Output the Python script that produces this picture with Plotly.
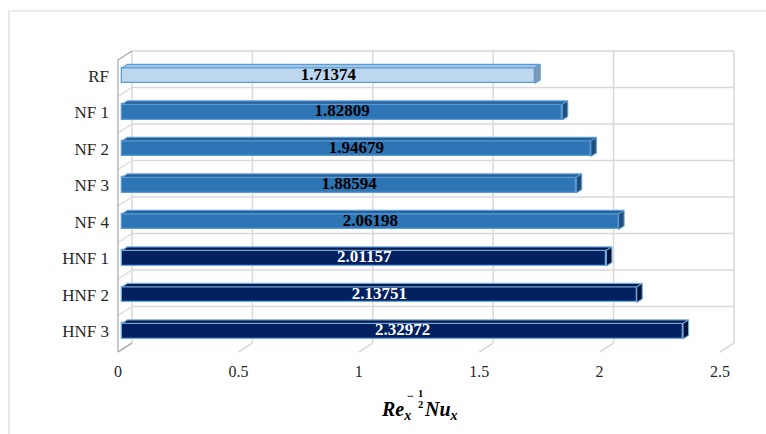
import plotly.graph_objects as go

# ---- data -------------------------------------------------------------
categories = ["RF", "NF 1", "NF 2", "NF 3", "NF 4", "HNF 1", "HNF 2", "HNF 3"]
values = [1.71374, 1.82809, 1.94679, 1.88594, 2.06198, 2.01157, 2.13751, 2.32972]
groups = ["RF", "NF", "NF", "NF", "NF", "HNF", "HNF", "HNF"]
x_ticks = [0, 0.5, 1, 1.5, 2, 2.5]
x_tick_labels = ["0", "0.5", "1", "1.5", "2", "2.5"]

# ---- styling ----------------------------------------------------------
W, H = 766, 434
FRONT_X0, FRONT_X1 = 118, 720          # pixel of value 0 and 2.5 on the front plane
FRONT_Y0, FRONT_Y1 = 60, 352           # top / bottom pixel of the front plane
PPU_X = (FRONT_X1 - FRONT_X0) / x_ticks[-1]
BAND = (FRONT_Y1 - FRONT_Y0) / len(categories)
DEPTH_DX, DEPTH_DY = 14 / PPU_X, -9 / BAND   # wall depth in data units
BAR_F0, BAR_F1 = 0.29, 0.68                  # bar front/back position within depth
BAR_T = 15.5 / BAND                          # bar thickness

face = {"RF": "#BDD7EE", "NF": "#2E75B6", "HNF": "#002060"}
top = {"RF": "#9DC3E6", "NF": "#25619A", "HNF": "#00184A"}
side = {"RF": "#8497B0", "NF": "#1F4E79", "HNF": "#001238"}
edge = {"RF": "#5B9BD5", "NF": "#5B9BD5", "HNF": "#6FA8DC"}
txt = {"RF": "black", "NF": "black", "HNF": "white"}

GRID = "#D9D9D9"
WALL = "#A6A6A6"
SERIF = "Liberation Serif, Times New Roman, serif"

n = len(categories)
x_max = x_ticks[-1]

fig = go.Figure()

# ---- walls and gridlines (behind the bars) ----------------------------
shapes = []


def seg(x0, y0, x1, y1, color=GRID, width=1.5):
    shapes.append(dict(type="line", xref="x", yref="y", x0=x0, y0=y0, x1=x1, y1=y1,
                       line=dict(color=color, width=width), layer="below"))


for t in x_ticks:
    # back wall vertical gridline
    seg(t + DEPTH_DX, DEPTH_DY, t + DEPTH_DX, n + DEPTH_DY)
    # floor depth line
    seg(t, n, t + DEPTH_DX, n + DEPTH_DY)
for k in range(n):
    # back wall horizontal lines at category boundaries
    seg(DEPTH_DX, k + DEPTH_DY, x_max + DEPTH_DX, k + DEPTH_DY)
for k in range(n + 1):
    # side wall depth lines
    seg(0, k, DEPTH_DX, k + DEPTH_DY,
        color=WALL if k in (0, n) else GRID, width=1.2)
# side wall front edge
seg(0, 0, 0, n, color=WALL, width=1.2)

# ---- bars: front faces -------------------------------------------------
centers = [i + 0.5 + BAR_F0 * DEPTH_DY for i in range(n)]
fig.add_trace(go.Bar(
    orientation="h",
    x=values,
    y=centers,
    base=BAR_F0 * DEPTH_DX,
    width=BAR_T,
    marker=dict(color=[face[g] for g in groups],
                line=dict(color=[edge[g] for g in groups], width=1.3)),
    hoverinfo="skip",
    showlegend=False,
))

# ---- bars: top and end faces ------------------------------------------
for i, (v, g) in enumerate(zip(values, groups)):
    yc = i + 0.5
    ytf = yc - BAR_T / 2 + BAR_F0 * DEPTH_DY
    ybf = yc + BAR_T / 2 + BAR_F0 * DEPTH_DY
    ytb = yc - BAR_T / 2 + BAR_F1 * DEPTH_DY
    ybb = yc + BAR_T / 2 + BAR_F1 * DEPTH_DY
    x0f = BAR_F0 * DEPTH_DX
    x0b = BAR_F1 * DEPTH_DX
    xvf = v + x0f
    xvb = v + x0b
    fig.add_trace(go.Scatter(
        x=[x0f, xvf, xvb, x0b, x0f], y=[ytf, ytf, ytb, ytb, ytf],
        mode="lines", fill="toself", fillcolor=top[g],
        line=dict(color=edge[g], width=1.1), hoverinfo="skip", showlegend=False))
    fig.add_trace(go.Scatter(
        x=[xvf, xvb, xvb, xvf, xvf], y=[ytf, ytb, ybb, ybf, ytf],
        mode="lines", fill="toself", fillcolor=side[g],
        line=dict(color=edge[g], width=1.1), hoverinfo="skip", showlegend=False))

# ---- value labels ------------------------------------------------------
fig.add_trace(go.Scatter(
    x=[v / 2 + BAR_F0 * DEPTH_DX for v in values],
    y=centers,
    mode="text",
    text=[f"<b>{v:.5f}</b>" for v in values],
    textfont=dict(family=SERIF, size=17, color=[txt[g] for g in groups]),
    hoverinfo="skip", showlegend=False, cliponaxis=False,
))

# ---- outer chart border ------------------------------------------------
shapes.append(dict(type="rect", xref="paper", yref="paper",
                   x0=9 / W, y0=-0.05, x1=1.05, y1=1 - 11 / H,
                   line=dict(color="#D9D9D9", width=1.2), layer="below"))

# ---- axis title: Re_x^(-1/2) Nu_x ---------------------------------------
def px(xp, yp):
    return xp / W, 1 - yp / H


ann = []
ax, ay = px(380, 410)
ann.append(dict(text="<b><i>Re<sub>x</sub></i></b>", x=ax, y=ay, xanchor="left", yanchor="middle",
                font=dict(family=SERIF, size=20, color="black")))
ax, ay = px(411, 396)
ann.append(dict(text="<b>−</b>", x=ax, y=ay, xanchor="center", yanchor="middle",
                font=dict(family=SERIF, size=12, color="black")))
ax, ay = px(420.5, 393.5)
ann.append(dict(text="<b>1</b>", x=ax, y=ay, xanchor="center", yanchor="middle",
                font=dict(family=SERIF, size=10.5, color="black")))
ax, ay = px(420.5, 404.5)
ann.append(dict(text="<b>2</b>", x=ax, y=ay, xanchor="center", yanchor="middle",
                font=dict(family=SERIF, size=10.5, color="black")))
ax, ay = px(423, 410)
ann.append(dict(text="<b><i>Nu<sub>x</sub></i></b>", x=ax, y=ay, xanchor="left", yanchor="middle",
                font=dict(family=SERIF, size=20, color="black")))
for a in ann:
    a.update(xref="paper", yref="paper", showarrow=False, borderpad=0)

fig.update_layout(
    width=W, height=H,
    margin=dict(l=0, r=0, t=0, b=0, pad=0),
    paper_bgcolor="white", plot_bgcolor="white",
    shapes=shapes, annotations=ann,
    bargap=0,
    xaxis=dict(
        range=[(0 - FRONT_X0) / PPU_X, (W - FRONT_X0) / PPU_X],
        tickvals=x_ticks, ticktext=x_tick_labels,
        showgrid=False, zeroline=False, showline=False,
        ticks="", anchor="free", position=1 - FRONT_Y1 / H,
        ticklabelstandoff=8,
        tickfont=dict(family=SERIF, size=16, color="#262626"),
        fixedrange=True,
    ),
    yaxis=dict(
        range=[(H - FRONT_Y0) / BAND, (0 - FRONT_Y0) / BAND],
        tickvals=centers, ticktext=categories,
        showgrid=False, zeroline=False, showline=False,
        ticks="", anchor="free", position=FRONT_X0 / W,
        ticklabelstandoff=9,
        tickfont=dict(family=SERIF, size=17, color="#262626"),
        fixedrange=True,
    ),
)

fig.write_html("out.html")
